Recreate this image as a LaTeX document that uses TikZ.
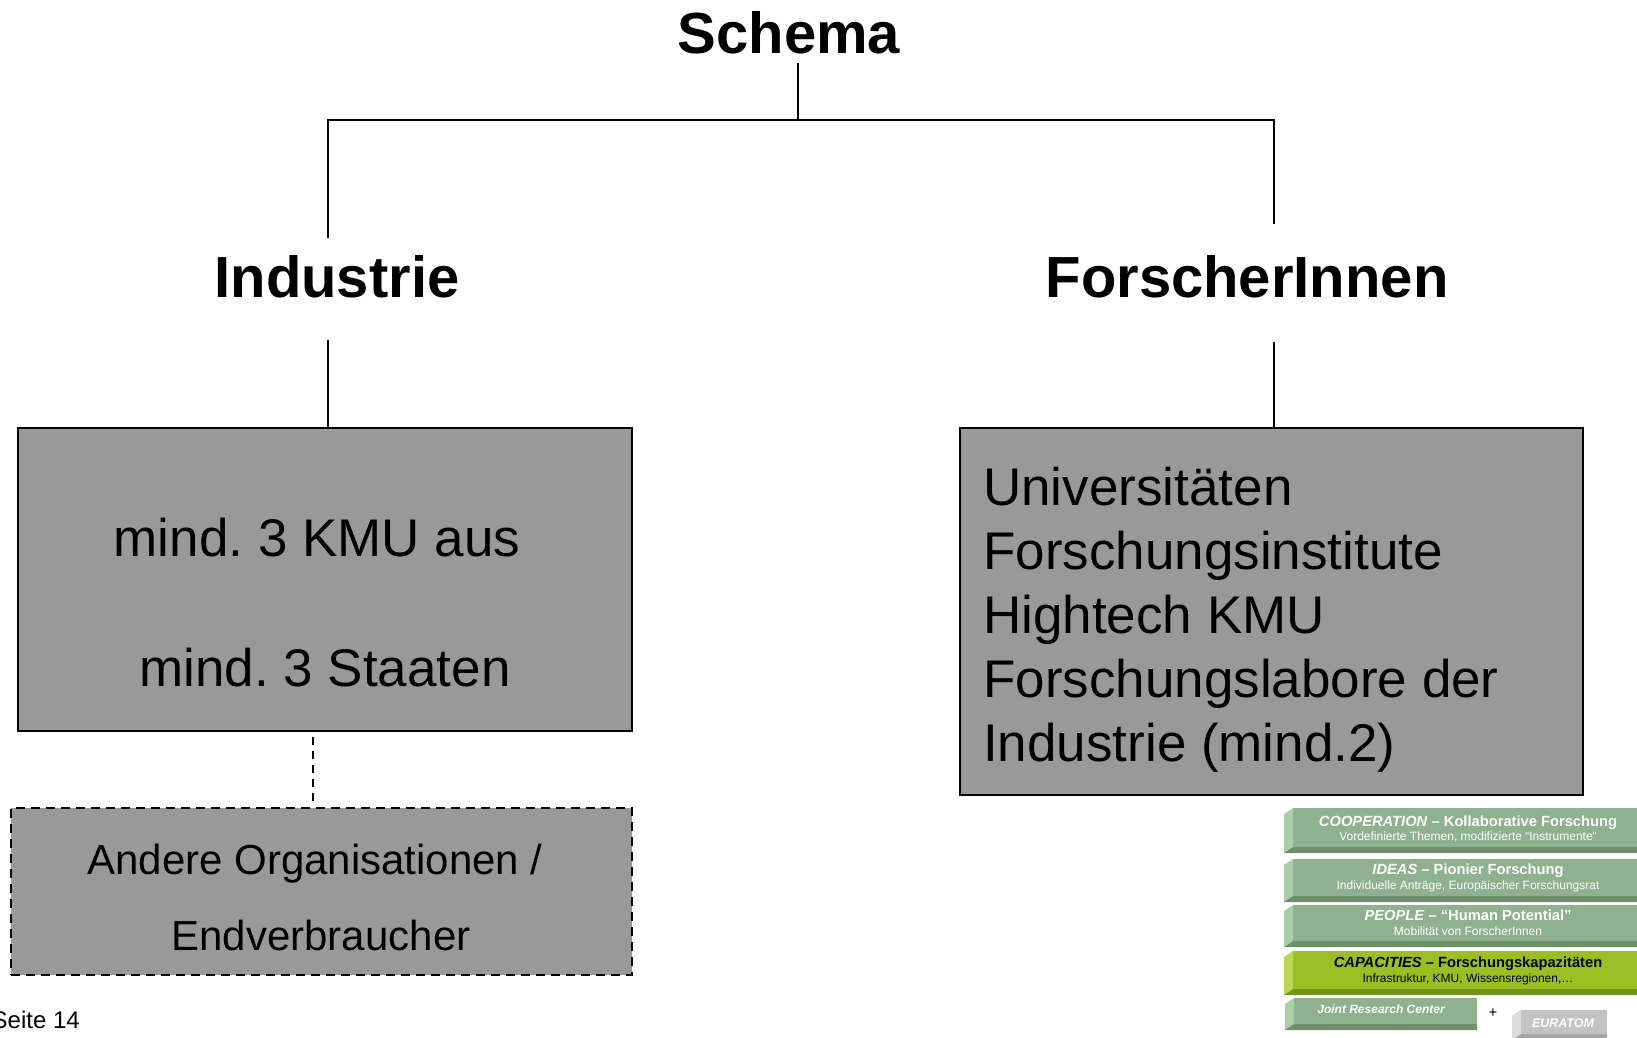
\documentclass[tikz,border=0pt]{standalone}
\usepackage{fontspec}
\setmainfont{Liberation Sans}
\frenchspacing
\definecolor{kastengrau}{HTML}{999999}
\definecolor{gruenfront}{HTML}{8FB18F}
\definecolor{gruenside}{HTML}{AACDAA}
\definecolor{gruenbase}{HTML}{6F8F6F}
\definecolor{limefront}{HTML}{99BF22}
\definecolor{limeside}{HTML}{B8D755}
\definecolor{limebase}{HTML}{72951A}
\definecolor{graufront}{HTML}{C3C3C3}
\definecolor{grauside}{HTML}{DCDCDC}
\definecolor{graubase}{HTML}{A6A6A6}

% Stufe: links, rechts, oben, unten, Farbe
\newcommand{\stufe}[5]{%
  \fill[#5front] (#1+9,#3) rectangle (#2,#4-6);
  \fill[#5side] (#1,#3+6) -- (#1+9,#3) -- (#1+9,#4-6) -- (#1,#4) -- cycle;
  \fill[#5base] (#1,#4) -- (#1+9,#4-6) -- (#2,#4-6) -- (#2,#4) -- cycle;}

\begin{document}
\begin{tikzpicture}[
    x=1pt, y=-1pt,
    titel/.style={font=\fontsize{58}{70}\selectfont\bfseries, inner sep=0pt},
    boxtext/.style={font=\fontsize{53}{64}\selectfont, inner sep=0pt},
    kleintext/.style={font=\fontsize{42}{50}\selectfont, inner sep=0pt},
    kasten/.style={draw=black, fill=kastengrau, line width=2.5pt, inner sep=0pt},
    linie/.style={line width=2.2pt},
    stufetitel/.style={font=\fontsize{14.7}{17}\selectfont\bfseries, inner sep=0pt, text=white},
    stufesub/.style={font=\fontsize{12}{14}\selectfont, inner sep=0pt, text=white}
  ]
  \useasboundingbox (0,0) rectangle (1637,1037);

  % Titel
  \node[titel, anchor=base] (schema) at (789,53) {Schema};
  \node[titel, anchor=base] (industrie) at (337,297) {Industrie};
  \node[titel, anchor=base] (forscher) at (1247,297) {ForscherInnen};

  % Kaesten
  \node[kasten, minimum width=614pt, minimum height=303pt] (kmu) at (325,579.5) {};
  \node[boxtext, anchor=base] (kmu1) at (317,556) {mind. 3 KMU aus};
  \node[boxtext, anchor=base] (kmu2) at (325,686) {mind. 3 Staaten};

  \node[kasten, minimum width=623pt, minimum height=367pt] (uni) at (1271.5,611.5) {};
  \foreach \txt [count=\i] in {Universitäten, Forschungsinstitute, Hightech KMU,
      Forschungslabore der, Industrie (mind.2)}
    \node[boxtext, anchor=base west] (uni\i) at (983,{505+64*(\i-1)}) {\txt};

  \node[kasten, dash pattern=on 9pt off 6pt, minimum width=621pt, minimum height=167pt] (andere) at (321.5,891.5) {};
  \node[kleintext, anchor=base] (andere1) at (315,874) {Andere Organisationen /};
  \node[kleintext, anchor=base] (andere2) at (321,950) {Endverbraucher};

  % Linien
  \coordinate (s0) at (798,63);
  \coordinate (s1) at (798,120);
  \coordinate (l0) at (328,120);
  \coordinate (l1) at (328,238);
  \coordinate (r0) at (1274,120);
  \coordinate (r1) at (1274,224);
  \coordinate (l2) at (328,340);
  \coordinate (r2) at (1274,342);
  \coordinate (d0) at (313,737);
  \draw[linie] (s0) -- (s1);
  \draw[linie] (l1) -- (l0) -- (r0) -- (r1);
  \draw[linie] (l2) -- (l2 |- kmu.north);
  \draw[linie] (r2) -- (r2 |- uni.north);
  \draw[linie, dash pattern=on 8pt off 6pt] (d0) -- (d0 |- andere.north);

  \node[anchor=base east, inner sep=0pt, font=\fontsize{24}{28}\selectfont] (seite) at (80,1028) {Seite 14};

  % Programme
  \stufe{1284}{1637}{808}{853}{gruen}
  \stufe{1284}{1637}{859}{902}{gruen}
  \stufe{1284}{1637}{905}{947}{gruen}
  \stufe{1284}{1637}{951}{995}{lime}
  \stufe{1285}{1477}{998}{1030}{gruen}
  \stufe{1512}{1607}{1010}{1040}{grau}

  \node[stufetitel, anchor=base] (coop) at (1468,826) {\textit{COOPERATION} – Kollaborative Forschung};
  \node[stufesub, anchor=base] (coopsub) at (1468,840) {Vordefinierte Themen, modifizierte “Instrumente”};
  \node[stufetitel, anchor=base] (ideas) at (1468,874) {\textit{IDEAS} – Pionier Forschung};
  \node[stufesub, anchor=base] (ideassub) at (1468,889) {Individuelle Anträge, Europäischer Forschungsrat};
  \node[stufetitel, anchor=base] (people) at (1468,920) {\textit{PEOPLE} – “Human Potential”};
  \node[stufesub, anchor=base] (peoplesub) at (1468,935) {Mobilität von ForscherInnen};
  \node[stufetitel, anchor=base, text=black] (capa) at (1468,967) {\textit{CAPACITIES} – Forschungskapazitäten};
  \node[stufesub, anchor=base, text=black] (capasub) at (1468,982) {Infrastruktur, KMU, Wissensregionen,…};
  \node[stufetitel, anchor=base, font=\fontsize{12}{14}\selectfont\bfseries\itshape] (jrc) at (1381,1013) {Joint Research Center};
  \node[anchor=base, inner sep=0pt, font=\fontsize{15}{17}\selectfont] (plus) at (1493,1017) {+};
  \node[stufetitel, anchor=base, font=\fontsize{12.5}{14}\selectfont\bfseries\itshape] (euratom) at (1563,1027) {EURATOM};
\end{tikzpicture}
\end{document}
